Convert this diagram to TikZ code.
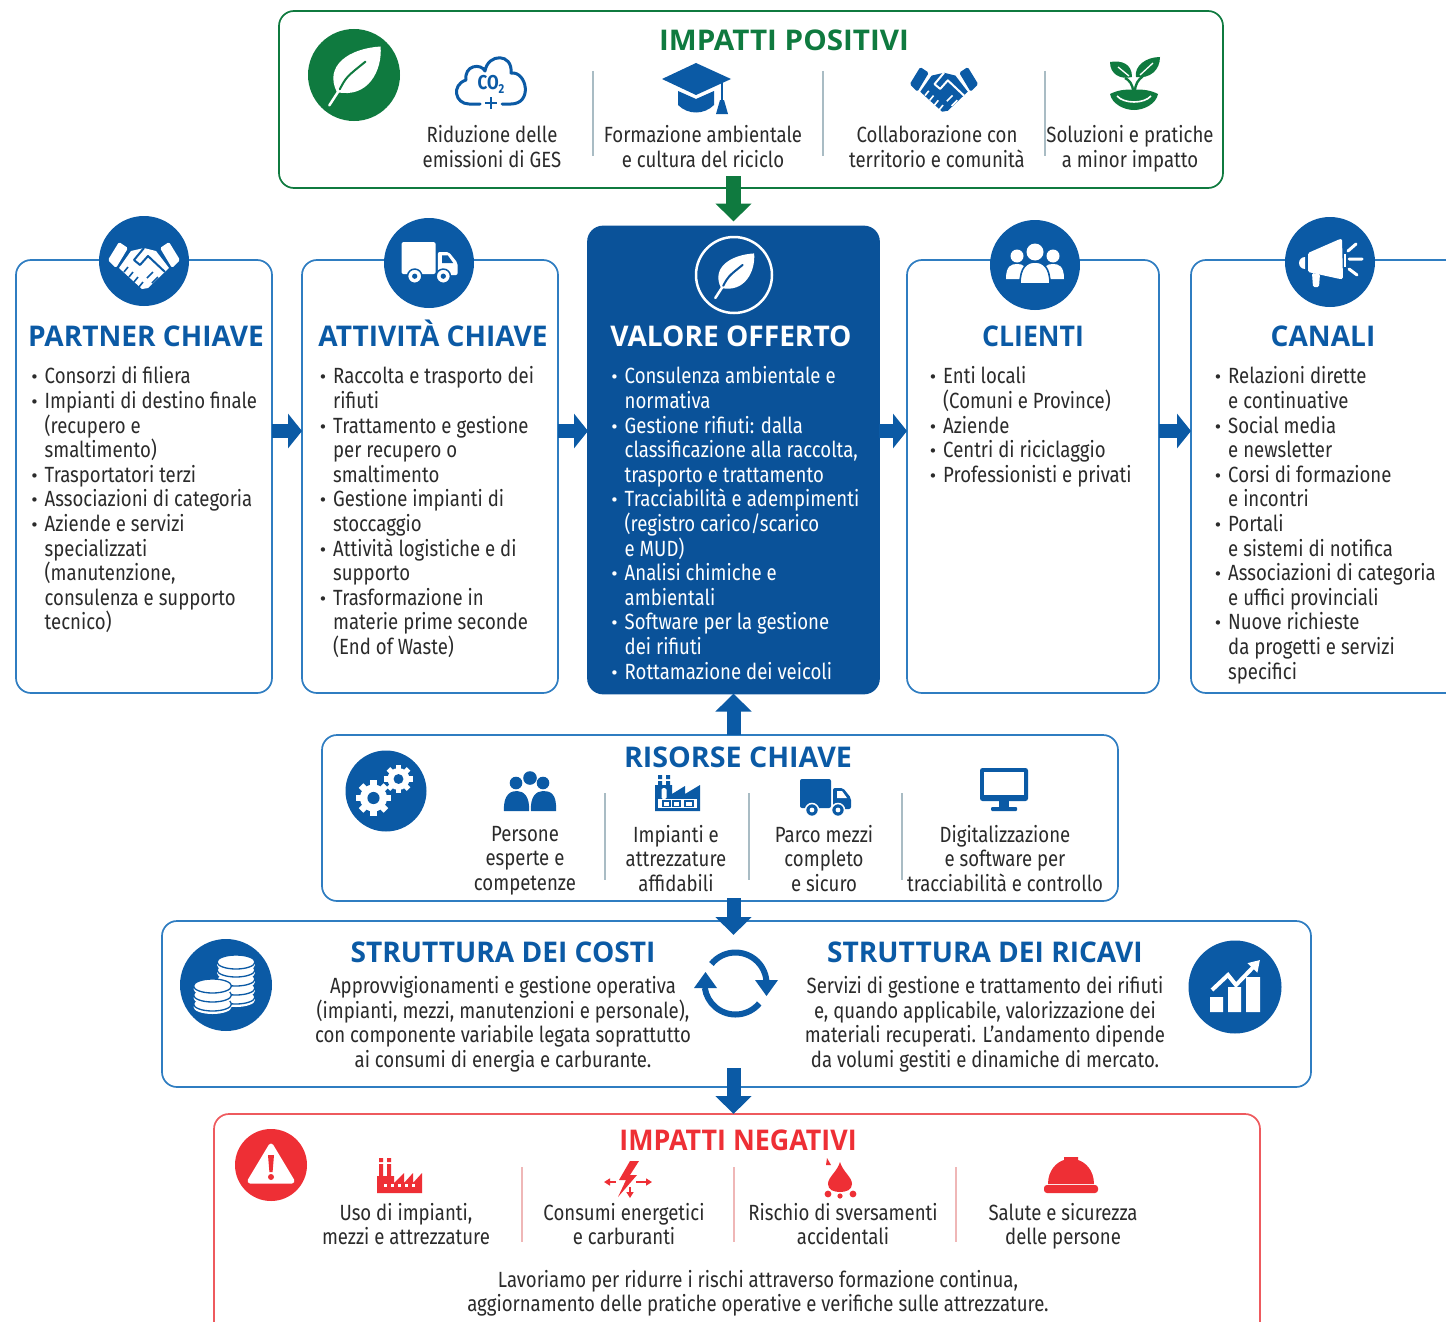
\documentclass[tikz,border=0pt]{standalone}
\usepackage{fontspec}
\setmainfont[FakeStretch=0.845]{Fira Sans}
\newfontfamily\headfont[FakeStretch=0.985]{Open Sans}
\newfontfamily\dotfont{DejaVu Sans}
\usetikzlibrary{arrows.meta,calc}
\definecolor{bluemain}{HTML}{0B5AA5}
\definecolor{bluedark}{HTML}{0A5299}
\definecolor{blueline}{HTML}{2F7DC1}
\definecolor{greenmain}{HTML}{0F7A3F}
\definecolor{redmain}{HTML}{EE2F35}
\definecolor{redline}{HTML}{EE5A5E}
\definecolor{ink}{HTML}{2B2B2B}
\definecolor{sepgrey}{HTML}{A9BCC4}
\definecolor{seppink}{HTML}{EFB7B7}
\tikzset{
  panel/.style={draw=blueline,line width=1.7pt,rounded corners=15pt,inner sep=0pt,outer sep=0pt,fill=white},
  disc/.style={circle,inner sep=0pt,outer sep=0pt,fill=bluemain},
  body/.style={font=\fontsize{22}{24.6}\selectfont,text=ink,align=center,inner sep=0pt,execute at begin node=\strut,execute at end node=\strut},
  listing/.style={font=\fontsize{22}{24.6}\selectfont,text=ink,align=left,inner sep=0pt,anchor=north west},
  head/.style={font=\headfont\bfseries\fontsize{28.5}{30}\selectfont,text=bluemain,inner sep=0pt,text height=21pt,text depth=0pt},
  flowarrow/.style={line width=14pt,draw=bluemain,-{Triangle[length=14pt,width=34pt]}},
  vertarrow/.style={line width=14pt,draw=bluemain,-{Triangle[length=18pt,width=35pt]}},
  sep/.style={line width=1.5pt,draw=sepgrey},
  seppk/.style={line width=1.5pt,draw=seppink}
}
\newcommand\bl[1]{\makebox[14.5pt][l]{\raisebox{1pt}{\dotfont\fontsize{15}{15}\selectfont•}}#1}
\newcommand\ct[1]{\hspace*{14.5pt}#1}
\newcommand\icLeaf[5]{\begin{scope}[shift={(#1,#2)},scale=#3]
 \fill[#4] (-18,18) .. controls (-32,-10) and (-5,-28) .. (28,-30) .. controls (30,-5) and (15,25) .. (-18,18) -- cycle;
 \draw[#4,line width=2.5pt,line cap=round] (-26,32) -- (-15,15);
 \draw[#5,line width=2pt,line cap=round] (-15,15) .. controls (-8,2) .. (12,-14);
\end{scope}}
\newcommand\icCloud[2]{\begin{scope}[shift={(#1,#2)}]
 \draw[bluemain,line width=3pt,line cap=round,line join=round] (-11,21) -- (-22,21) .. controls (-36,21) and (-40,2) .. (-25,-3) .. controls (-27,-18) and (-10,-20) .. (-6,-12) .. controls (-3,-30) and (22,-30) .. (20,-10) .. controls (36,-12) and (42,21) .. (20,21) -- (11,21);
 \draw[bluemain,line width=2.6pt] (-6,20) -- (6,20) (0,14) -- (0,26);
 \node[font=\fontsize{20}{21}\selectfont\bfseries,text=bluemain,inner sep=0pt] (co2) at (0,1) {CO\raisebox{-4pt}{\fontsize{13}{14}\selectfont 2}};
\end{scope}}
\newcommand\icCap[2]{\begin{scope}[shift={(#1,#2)}]
 \fill[bluemain] (-36,-9) -- (-2,-25) -- (33,-9) -- (-2,7) -- cycle;
 \fill[bluemain] (-20,3) -- (-2,11) -- (16,3) -- (16,17) .. controls (6,27) and (-10,27) .. (-20,17) -- cycle;
 \draw[bluemain,line width=2pt] (24,-6) -- (24,14);
 \fill[bluemain] (22,12) -- (26,12) -- (30,26) -- (18,26) -- cycle;
\end{scope}}
\newcommand\icShake[5]{\begin{scope}[shift={(#1,#2)},scale=#3]
 \fill[#4,rounded corners=1.5pt] (-36,-3) -- (-25,-21) -- (-16,-15) -- (-28,5) -- cycle;
 \fill[#4,rounded corners=1.5pt] (36,-3) -- (25,-21) -- (16,-15) -- (28,5) -- cycle;
 \fill[#4] (-25,5) -- (-13,-12) -- (0,-15) -- (12,-12) -- (25,5) -- (4,25) -- (-2,26) -- cycle;
 \draw[#5,line width=2pt,line join=round] (0,-15) -- (-10,-3) -- (-4,2) -- (4,-7) -- (21,9);
 \draw[#5,line width=1.6pt] (-16,4) -- (-20,9) (-11,9) -- (-15,14) (-6,14) -- (-10,19) (-1,19) -- (-5,24);
 \draw[#5,line width=1.6pt] (9,9) -- (3,15) (14,14) -- (8,20);
\end{scope}}
\newcommand\icSprout[2]{\begin{scope}[shift={(#1,#2)}]
 \fill[greenmain] (-2,-7) .. controls (-14,-4) and (-24,-10) .. (-24,-22) .. controls (-12,-24) and (-2,-20) .. (-2,-7) -- cycle;
 \fill[greenmain] (2,-7) .. controls (0,-18) and (12,-27) .. (26,-27) .. controls (26,-14) and (16,-5) .. (2,-7) -- cycle;
 \draw[greenmain,line width=2.4pt] (-1,8) .. controls (-1,0) and (-5,-4) .. (-9,-6);
 \draw[greenmain,line width=2.4pt] (1,8) .. controls (1,0) and (4,-4) .. (9,-8);
 \draw[greenmain,line width=3.6pt] (0,14) -- (0,4);
 \draw[white,line width=1.3pt] (-16,-17) -- (-5,-8) (19,-21) -- (6,-9);
 \fill[greenmain] (-24,10) .. controls (-16,6) and (-8,5) .. (0,6) .. controls (8,5) and (16,6) .. (24,10) .. controls (22,20) and (10,26) .. (0,26) .. controls (-10,26) and (-22,20) .. (-24,10) -- cycle;
 \draw[white,line width=1.6pt] (-17,12) .. controls (-10,20) and (10,20) .. (17,12);
\end{scope}}
\newcommand\icPeople[3]{\begin{scope}[shift={(#1,#2)}]
 \fill[#3] (-14,-12) circle (6.3) (13,-12) circle (6.3) (0,-17) circle (6.8);
 \fill[#3] (-26,16) .. controls (-27,-2) and (-18,-4) .. (-13,-4) .. controls (-6,-4) and (0,2) .. (-1,16) -- cycle;
 \fill[#3] (1,16) .. controls (0,2) and (6,-4) .. (13,-4) .. controls (20,-4) and (27,-2) .. (26,16) -- cycle;
\end{scope}}
\newcommand\icClients[3]{\begin{scope}[shift={(#1,#2)}]
 \fill[#3] (-18,-11) circle (6.5) (18,-11) circle (6.5);
 \fill[#3] (-29,12) .. controls (-29,-1) and (-24,-3) .. (-18,-3) .. controls (-12,-3) and (-7,-1) .. (-7,12) -- cycle;
 \fill[#3] (29,12) .. controls (29,-1) and (24,-3) .. (18,-3) .. controls (12,-3) and (7,-1) .. (7,12) -- cycle;
 \fill[#3] (0,-15) circle (8.5);
 \filldraw[fill=#3,draw=bluemain,line width=1.6pt] (-15,17) .. controls (-15,0) and (-8,-5) .. (0,-5) .. controls (8,-5) and (15,0) .. (15,17) -- cycle;
\end{scope}}
\newcommand\icFactoryB[2]{\begin{scope}[shift={(#1,#2)}]
 \fill[bluemain] (-19,-18) rectangle (-15,-14) (-11,-18) rectangle (-7,-14);
 \fill[bluemain] (-19,-12) rectangle (-15,-8) (-11,-12) rectangle (-7,-8);
 \fill[bluemain] (-22,18) -- (-22,-8) -- (-5,-8) -- (-5,1) -- (8,-7) -- (8,1) -- (23,-8) -- (23,18) -- cycle;
 \fill[white,rounded corners=1.5pt] (-15.5,-5) rectangle (-10.5,6);
 \fill[white] (-19,6) rectangle (20,15);
 \draw[bluemain,line width=1.4pt] (-14,8) rectangle (-7,13.5) (-4,8) rectangle (3,13.5) (8,8) rectangle (16,13.5);
\end{scope}}
\newcommand\icFactoryR[2]{\begin{scope}[shift={(#1,#2)}]
 \fill[redmain] (-21,-18) rectangle (-17,-14) (-13,-18) rectangle (-9,-14);
 \fill[redmain] (-21,-12) rectangle (-17,2) (-13,-12) rectangle (-9,2);
 \fill[redmain] (-23,17) -- (-23,0) -- (-6,0) -- (-6,7) -- (4,-3) -- (4,7) -- (13,-3) -- (13,7) -- (22,-3) -- (22,17) -- cycle;
 \foreach \w in {-16,-9,-2,5,12}{\fill[white] (\w,7.5) rectangle ++(3,3);}
\end{scope}}
\newcommand\icTruck[5]{\begin{scope}[shift={(#1,#2)},scale=#3]
 \fill[#4,rounded corners=2pt] (-25,-19) rectangle (6,10);
 \fill[#4,rounded corners=2pt] (8,-10) -- (18,-10) -- (26,0) -- (26,11) -- (8,11) -- cycle;
 \fill[#5] (12,-7) -- (17,-7) -- (22,0) -- (12,0) -- cycle;
 \filldraw[fill=#4,draw=#5,line width=1.5pt] (-13,12) circle (6.5) (13,12) circle (6.5);
 \fill[#5] (-13,12) circle (2.4) (13,12) circle (2.4);
\end{scope}}
\newcommand\icMonitor[2]{\begin{scope}[shift={(#1,#2)}]
 \fill[bluemain,rounded corners=2.5pt] (-24,-21) rectangle (24,12);
 \fill[white] (-20,-17) rectangle (20,6);
 \fill[bluemain] (-5,12) rectangle (5,18);
 \fill[bluemain,rounded corners=1pt] (-13,18) rectangle (13,22);
\end{scope}}
\newcommand\icGear[5]{\begin{scope}[shift={(#1,#2)}]
 \foreach \a in {0,45,...,315}{\fill[#4,rotate=\a] (-.24*#3,-1.3*#3) rectangle (.24*#3,-.8*#3);}
 \fill[#4] (0,0) circle (#3);
 \fill[#5] (0,0) circle (.45*#3);
\end{scope}}
\newcommand\icCoin[2]{\fill[white] (#1-19,#2) rectangle (#1+19,#2+3);
 \fill[white] (#1,#2+3) ellipse (19 and 7);
 \filldraw[fill=white,draw=bluemain,line width=1.3pt] (#1,#2) ellipse (19 and 7);}
\newcommand\icMega[3]{\begin{scope}[shift={(#1,#2)}]
 \fill[#3] (-25,-3) arc[start angle=270,end angle=90,radius=6] -- cycle;
 \fill[#3,rounded corners=1.5pt] (-22,-7) -- (10,-21) -- (12,-21) -- (13,19) -- (10,19) -- (-22,12) -- cycle;
 \fill[#3,rounded corners=1.5pt] (-18,13) -- (-10,14) -- (-11,27) -- (-17,27) -- cycle;
 \fill[#3] (14,-6) rectangle (16,7);
 \draw[#3,line width=3pt,line cap=round] (18,-9) -- (26,-16) (19,-1) -- (32,-1) (19,9) -- (27,15);
\end{scope}}
\newcommand\icChart[2]{\begin{scope}[shift={(#1,#2)}]
 \fill[white] (-26,10) rectangle (-13,25) (-8,0) rectangle (5,25) (10,-10) rectangle (24,25);
 \draw[white,line width=4pt,line join=miter,-{Triangle[length=11pt,width=13pt]}] (-24,3) -- (-8,-12) -- (0,-2) -- (24,-27);
\end{scope}}
\newcommand\icWarn[2]{\begin{scope}[shift={(#1,#2)}]
 \filldraw[fill=white,draw=white,line width=5pt,line join=round] (0,-20) -- (21,15) -- (-21,15) -- cycle;
 \fill[redmain] (-3,-11) -- (3,-11) -- (1.6,6) -- (-1.6,6) -- cycle;
 \fill[redmain] (0,11) circle (3);
\end{scope}}
\newcommand\icBolt[2]{\begin{scope}[shift={(#1,#2)}]
 \fill[redmain] (3,-19) -- (-8,0) -- (-1,0) -- (-9,17) -- (10,-5) -- (3,-5) -- (12,-19) -- cycle;
 \draw[redmain,line width=2pt,{Triangle[length=6pt,width=7pt]}-] (-23,2) -- (-11,2);
 \draw[redmain,line width=2pt,-{Triangle[length=6pt,width=7pt]}] (9,2) -- (25,2);
 \draw[redmain,line width=2pt,-{Triangle[length=6pt,width=7pt]}] (3,7) -- (3,18);
\end{scope}}
\newcommand\icDrop[2]{\begin{scope}[shift={(#1,#2)}]
 \fill[redmain] (0,-16) .. controls (3,-6) and (12,-1) .. (12,6) .. controls (12,12) and (6,14) .. (0,14) .. controls (-6,14) and (-12,12) .. (-12,6) .. controls (-12,-1) and (-3,-6) .. (0,-16) -- cycle;
 \fill[redmain] (-13,-20) -- (-9,-13) -- (-14,-13) -- cycle;
 \fill[redmain] (-12,16) circle (3.4) (13,16) circle (3.4) (0,18) circle (2.6);
\end{scope}}
\newcommand\icHat[2]{\begin{scope}[shift={(#1,#2)}]
 \fill[redmain] (-23,9) .. controls (-23,-5) and (-14,-13) .. (-7,-15) -- (-7,-18) -- (7,-18) -- (7,-15) .. controls (14,-13) and (23,-5) .. (23,9) -- cycle;
 \fill[redmain,rounded corners=3pt] (-27,10) rectangle (27,18);
\end{scope}}
\begin{document}
\begin{tikzpicture}[x=1pt,y=-1pt]
\clip (0,0) rectangle (1446,1322);
% panels
\node[panel,draw=greenmain,minimum width=944pt,minimum height=177pt] (positivi) at (751,99.5) {};
\node[panel,minimum width=256pt,minimum height=433pt] (partner) at (144,476.5) {};
\node[panel,minimum width=256pt,minimum height=433pt] (attivita) at (430,476.5) {};
\node[panel,draw=bluedark,fill=bluedark,minimum width=291pt,minimum height=467pt] (valore) at (733.5,460) {};
\node[panel,minimum width=252pt,minimum height=433pt] (clienti) at (1033,476.5) {};
\node[panel,minimum width=289pt,minimum height=433pt] (canali) at (1335.5,476.5) {};
\node[panel,minimum width=796pt,minimum height=166pt] (risorse) at (720,818) {};
\node[panel,minimum width=1149pt,minimum height=166pt] (struttura) at (736.5,1004) {};
\node[panel,draw=redline,minimum width=1046pt,minimum height=236pt] (negativi) at (737,1232) {};
% connectors
\coordinate (flow) at (0,431);
\draw[flowarrow] (partner.east |- flow) -- (attivita.west |- flow);
\draw[flowarrow] (attivita.east |- flow) -- (valore.west |- flow);
\draw[flowarrow] (valore.east |- flow) -- (clienti.west |- flow);
\draw[flowarrow] (clienti.east |- flow) -- (canali.west |- flow);
\draw[vertarrow,draw=greenmain,line width=15pt,shorten <=-12pt,shorten >=5pt] (valore.north |- positivi.south) -- (valore.north);
\draw[vertarrow] (valore.south |- risorse.north) -- (valore.south);
\draw[vertarrow,shorten <=-3pt,shorten >=-14pt] (valore.south |- risorse.south) -- (valore.south |- struttura.north);
\draw[vertarrow] (valore.south |- struttura.south) ++(0,-19) -- (valore.south |- negativi.north);
% discs
\node[disc,fill=greenmain,minimum size=92pt] (leafdisc) at (354,75) {};
\icLeaf{354}{75}{.95}{white}{greenmain}
\node[disc,minimum size=90pt] (shakedisc) at (144,261) {};
\icShake{144}{263}{1}{white}{bluemain}
\node[disc,minimum size=90pt] (truckdisc) at (429,263) {};
\icTruck{429}{263}{1.1}{white}{bluemain}
\node[disc,fill=none,draw=white,line width=2.5pt,minimum size=76pt] (valdisc) at (734,275) {};
\icLeaf{734}{275}{.72}{white}{bluedark}
\node[disc,minimum size=90pt] (clidisc) at (1035,265) {};
\icClients{1035}{267}{white}
\node[disc,minimum size=90pt] (candisc) at (1330,262) {};
\icMega{1330}{260}{white}
\node[disc,minimum size=81pt] (geardisc) at (386,791) {};
\icGear{373.5}{798}{13.5}{white}{bluemain}
\icGear{398.5}{779}{11}{white}{bluemain}
\node[disc,minimum size=92pt] (coindisc) at (226,985) {};
\icCoin{236}{997}\icCoin{236}{988}\icCoin{236}{979}\icCoin{236}{970}\icCoin{236}{962}
\icCoin{212.5}{1004}\icCoin{212.5}{995}\icCoin{212.5}{986}
\node[disc,minimum size=93pt] (chartdisc) at (1235,987) {};
\icChart{1236}{987}
\node[disc,fill=redmain,minimum size=72pt] (warndisc) at (271,1165) {};
\icWarn{271}{1166}
% cycle
\draw[bluemain,line width=6pt] (735.5,983.5) ++(-141:31) arc[start angle=-141,end angle=-6,radius=31];
\fill[bluemain] (755,980) -- (778,980) -- (766.5,996) -- cycle;
\draw[bluemain,line width=6pt] (735.5,983.5) ++(40:31) arc[start angle=40,end angle=172,radius=31];
\fill[bluemain] (694,988) -- (717,988) -- (705.5,972) -- cycle;
% separators
\foreach \s in {593,823,1045}{\draw[sep] (\s,71) -- (\s,156);}
\foreach \s in {605,749,902}{\draw[sep] (\s,793) -- (\s,880);}
\foreach \s in {522,734,956}{\draw[seppk] (\s,1167) -- (\s,1242);}
% positive
\node[head,text=greenmain] (hpos) at (784,40) {\scalebox{1.055}[1]{IMPATTI POSITIVI}};
\icCloud{491}{83}
\icCap{698}{88}
\icShake{944}{87}{.95}{bluemain}{white}
\icSprout{1134}{84}
\node[body] (p1) at (492,150) {Riduzione delle\\emissioni di GES};
\node[body] (p2) at (703,150) {Formazione ambientale\\e cultura del riciclo};
\node[body] (p3) at (937,150) {Collaborazione con\\territorio e comunità};
\node[body] (p4) at (1130,150) {Soluzioni e pratiche\\a minor impatto};
% column heads
\node[head] (hpar) at (146,336) {PARTNER CHIAVE};
\node[head] (hatt) at (433,336) {ATTIVITÀ CHIAVE};
\node[head,text=white] (hval) at (731,336) {VALORE OFFERTO};
\node[head] (hcli) at (1033,336) {\scalebox{.95}[1]{CLIENTI}};
\node[head] (hcan) at (1323,336) {CANALI};
% lists
\node[listing] (lpar) at (30,366.5) {\bl{Consorzi di filiera}\\\bl{Impianti di destino finale}\\\ct{(recupero e}\\\ct{smaltimento)}\\\bl{Trasportatori terzi}\\\bl{Associazioni di categoria}\\\bl{Aziende e servizi}\\\ct{specializzati}\\\ct{(manutenzione,}\\\ct{consulenza e supporto}\\\ct{tecnico)}};
\node[listing] (latt) at (318.5,366.5) {\bl{Raccolta e trasporto dei}\\\ct{rifiuti}\\\bl{Trattamento e gestione}\\\ct{per recupero o}\\\ct{smaltimento}\\\bl{Gestione impianti di}\\\ct{stoccaggio}\\\bl{Attività logistiche e di}\\\ct{supporto}\\\bl{Trasformazione in}\\\ct{materie prime seconde}\\\ct{(End of Waste)}};
\node[listing,text=white] (lval) at (610,366.5) {\bl{Consulenza ambientale e}\\\ct{normativa}\\\bl{Gestione rifiuti: dalla}\\\ct{classificazione alla raccolta,}\\\ct{trasporto e trattamento}\\\bl{Tracciabilità e adempimenti}\\\ct{(registro carico/scarico}\\\ct{e MUD)}\\\bl{Analisi chimiche e}\\\ct{ambientali}\\\bl{Software per la gestione}\\\ct{dei rifiuti}\\\bl{Rottamazione dei veicoli}};
\node[listing] (lcli) at (928.5,366.5) {\bl{Enti locali}\\\ct{(Comuni e Province)}\\\bl{Aziende}\\\bl{Centri di riciclaggio}\\\bl{Professionisti e privati}};
\node[listing] (lcan) at (1213.5,366.5) {\bl{Relazioni dirette}\\\ct{e continuative}\\\bl{Social media}\\\ct{e newsletter}\\\bl{Corsi di formazione}\\\ct{e incontri}\\\bl{Portali}\\\ct{e sistemi di notifica}\\\bl{Associazioni di categoria}\\\ct{e uffici provinciali}\\\bl{Nuove richieste}\\\ct{da progetti e servizi}\\\ct{specifici}};
% risorse
\node[head] (hris) at (738,757) {\scalebox{1.02}[1]{RISORSE CHIAVE}};
\icPeople{530}{795}{bluemain}
\icFactoryB{677}{793}
\icTruck{825}{798}{1}{bluemain}{white}
\icMonitor{1004}{789}
\node[body] (r1) at (525,862) {Persone\\esperte e\\competenze};
\node[body] (r2) at (676,862) {Impianti e\\attrezzature\\affidabili};
\node[body] (r3) at (824,862) {Parco mezzi\\completo\\e sicuro};
\node[body] (r4) at (1005,862) {Digitalizzazione\\e software per\\tracciabilità e controllo};
% struttura
\node[head] (hcos) at (503,952) {STRUTTURA DEI COSTI};
\node[head] (hric) at (985,952) {STRUTTURA DEI RICAVI};
\node[body] (tcos) at (503,1025.5) {Approvvigionamenti e gestione operativa\\(impianti, mezzi, manutenzioni e personale),\\con componente variabile legata soprattutto\\ai consumi di energia e carburante.};
\node[body] (tric) at (985,1025.5) {Servizi di gestione e trattamento dei rifiuti\\e, quando applicabile, valorizzazione dei\\materiali recuperati. L'andamento dipende\\da volumi gestiti e dinamiche di mercato.};
% negativi
\node[head,text=redmain] (hneg) at (738,1140) {\scalebox{.955}[1]{IMPATTI NEGATIVI}};
\icFactoryR{400}{1176}
\icBolt{627}{1180}
\icDrop{840}{1178}
\icHat{1071}{1175}
\node[body] (n1) at (406,1227.5) {Uso di impianti,\\mezzi e attrezzature};
\node[body] (n2) at (624,1227.5) {Consumi energetici\\e carburanti};
\node[body] (n3) at (843,1227.5) {Rischio di sversamenti\\accidentali};
\node[body] (n4) at (1063,1227.5) {Salute e sicurezza\\delle persone};
\node[body] (nfin) at (758,1294.5) {Lavoriamo per ridurre i rischi attraverso formazione continua,\\aggiornamento delle pratiche operative e verifiche sulle attrezzature.};
\end{tikzpicture}
\end{document}
